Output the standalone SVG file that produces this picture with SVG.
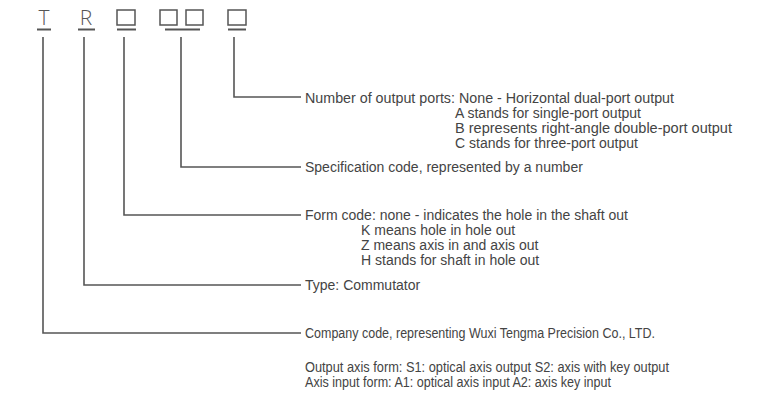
<svg xmlns="http://www.w3.org/2000/svg" width="757" height="401" viewBox="0 0 757 401">
<style>
.t{font-family:"Liberation Sans",Arial,sans-serif;font-size:14px;fill:#444}
.h{font-family:"Open Sans","Liberation Sans",sans-serif;font-size:21px;font-weight:300;fill:#555}
.ln{fill:none;stroke:#555;stroke-width:1.6}
.bx{fill:none;stroke:#555;stroke-width:1.5}
.ul{stroke:#555;stroke-width:2}
</style>
<rect width="757" height="401" fill="#fff"/>
<g id="code">
<text class="h" x="44" y="25" text-anchor="middle">T</text>
<text class="h" x="86" y="25" text-anchor="middle">R</text>
<rect class="bx" x="117" y="10" width="18" height="15"/>
<rect class="bx" x="160" y="10" width="17" height="15"/>
<rect class="bx" x="186" y="10" width="17" height="15"/>
<rect class="bx" x="228" y="10" width="18" height="15"/>
<line class="ul" x1="37" y1="29.5" x2="51" y2="29.5"/>
<line class="ul" x1="78" y1="29.5" x2="95" y2="29.5"/>
<line class="ul" x1="117" y1="29.5" x2="136" y2="29.5"/>
<line class="ul" x1="165" y1="29.5" x2="200" y2="29.5"/>
<line class="ul" x1="228" y1="29.5" x2="246" y2="29.5"/>
</g>
<g id="connectors">
<polyline class="ln" points="234,37 234,97 301,97"/>
<polyline class="ln" points="181,37 181,167 301,167"/>
<polyline class="ln" points="124,37 124,215 301,215"/>
<polyline class="ln" points="84,37 84,285 301,285"/>
<polyline class="ln" points="43,37 43,333 301,333"/>
</g>
<g id="ports">
<text class="t" x="305" y="103" textLength="369" lengthAdjust="spacingAndGlyphs">Number of output ports: None - Horizontal dual-port output</text>
<text class="t" x="455" y="118">A stands for single-port output</text>
<text class="t" x="455" y="133" textLength="277" lengthAdjust="spacingAndGlyphs">B represents right-angle double-port output</text>
<text class="t" x="455" y="148">C stands for three-port output</text>
</g>
<g id="spec">
<text class="t" x="305" y="172">Specification code, represented by a number</text>
</g>
<g id="form">
<text class="t" x="305" y="220">Form code: none - indicates the hole in the shaft out</text>
<text class="t" x="361" y="235">K means hole in hole out</text>
<text class="t" x="361" y="250">Z means axis in and axis out</text>
<text class="t" x="361" y="265">H stands for shaft in hole out</text>
</g>
<g id="type">
<text class="t" x="305" y="290">Type: Commutator</text>
</g>
<g id="company">
<text class="t" x="305" y="338" textLength="350" lengthAdjust="spacingAndGlyphs">Company code, representing Wuxi Tengma Precision Co., LTD.</text>
</g>
<g id="notes">
<text class="t" x="305" y="372" textLength="364" lengthAdjust="spacingAndGlyphs">Output axis form: S1: optical axis output S2: axis with key output</text>
<text class="t" x="305" y="387" textLength="306" lengthAdjust="spacingAndGlyphs">Axis input form: A1: optical axis input A2: axis key input</text>
</g>
</svg>
